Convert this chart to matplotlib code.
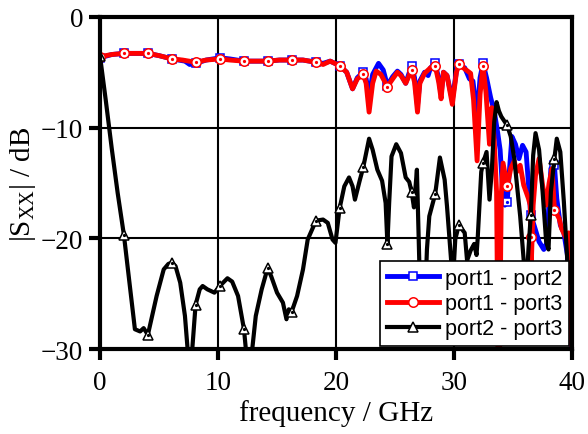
import numpy as np
import matplotlib
matplotlib.use("Agg")
import matplotlib.pyplot as plt
from matplotlib.lines import Line2D

plt.rcParams['font.family'] = ['Liberation Serif', 'DejaVu Serif']
plt.rcParams['mathtext.fontset'] = 'custom'
plt.rcParams['mathtext.rm'] = 'Liberation Serif'
plt.rcParams['mathtext.it'] = 'Liberation Serif:italic'

# marker frequencies (GHz)
marker_freq = [0.0, 2.03, 4.06, 6.1, 8.1, 10.15, 12.2, 14.2, 16.25, 18.3, 20.3,
               22.3, 24.35, 26.4, 28.4, 30.4, 32.45, 34.5, 36.5, 38.5]

# port1 - port2 (blue)
f12 = [0.0, 1.0, 2.03, 3.0, 4.06, 5.0, 6.1, 7.2, 7.6, 8.1, 9.0, 10.15, 11.0, 12.2, 13.0,
       14.2, 15.2, 16.25, 17.2, 18.3, 18.9, 19.5, 20.3, 20.9, 21.4, 21.8, 22.3, 22.55,
       22.8, 23.1, 23.6, 24.0, 24.35, 24.8, 25.2, 25.5, 25.9, 26.4, 26.65, 26.9, 27.1,
       27.5, 27.8, 28.0, 28.4, 28.7, 28.9, 29.1, 29.4, 29.85, 30.2, 30.4, 30.9, 31.3,
       31.6, 31.95, 32.2, 32.45, 32.75, 33.1, 33.4, 33.7, 33.9, 34.1, 34.3, 34.5, 34.7,
       34.9, 35.2, 35.5, 35.8, 36.1, 36.5, 36.8, 37.2, 37.6, 37.9, 38.0, 38.2, 38.5,
       38.7, 39.0, 39.3, 39.6, 39.8, 40.0]
s12 = [-3.7, -3.4, -3.3, -3.3, -3.3, -3.5, -3.8, -4.0, -4.3, -4.2, -3.9, -3.7, -3.8, -4.0, -4.0,
       -4.0, -3.9, -3.9, -3.9, -4.1, -4.2, -4.0, -4.4, -5.0, -6.5, -5.5, -5.0, -5.6,
       -7.2, -5.2, -4.2, -4.8, -6.2, -5.4, -4.9, -5.2, -6.0, -4.4, -5.5, -8.0, -5.8,
       -5.0, -5.3, -4.6, -4.2, -5.6, -7.0, -5.0, -5.3, -7.5, -4.9, -4.3, -4.6, -5.6,
       -5.8, -9.0, -5.5, -4.2, -5.5, -7.3, -8.5, -10.5, -12.0, -15.5, -17.0, -16.7, -13.7,
       -10.8, -11.5, -12.8, -11.6, -12.2, -17.9, -18.9, -20.3, -21.0, -20.3, -17.6, -13.7, -13.4,
       -16.4, -18.8, -19.5, -21.5, -28.0, -31.0]

# port1 - port3 (red)
f13 = [0.0, 1.0, 2.03, 3.0, 4.06, 5.0, 6.1, 7.0, 8.1, 9.0, 10.15, 11.0, 12.2, 13.0, 14.2,
       15.2, 16.25, 17.2, 18.3, 18.9, 19.5, 20.3, 20.9, 21.4, 21.8, 22.3, 22.55, 22.8,
       23.1, 23.4, 23.8, 24.35, 24.8, 25.2, 25.5, 25.9, 26.4, 26.65, 26.9, 27.1, 27.5,
       28.0, 28.4, 28.7, 28.9, 29.1, 29.4, 29.85, 30.2, 30.4, 30.9, 31.4, 31.65, 31.95,
       32.2, 32.45, 32.7, 33.0, 33.2, 33.4, 33.6, 33.72, 33.85, 34.0, 34.15, 34.5, 34.8,
       35.1, 35.3, 35.6, 35.9, 36.3, 36.45, 36.5, 36.55, 36.7, 36.9, 37.2, 37.5, 37.8,
       38.05, 38.3, 38.5, 38.9, 39.1, 39.5, 39.7, 39.85, 40.0]
s13 = [-3.6, -3.4, -3.3, -3.3, -3.3, -3.5, -3.8, -3.9, -4.1, -3.9, -3.8, -3.9, -4.0, -4.0, -4.0,
       -3.9, -3.9, -3.9, -4.1, -4.3, -4.0, -4.4, -5.0, -6.5, -5.6, -5.2, -6.0, -8.6,
       -6.0, -4.9, -5.2, -6.3, -5.6, -5.0, -5.3, -6.0, -4.8, -5.9, -8.6, -6.0, -5.1,
       -4.6, -4.4, -5.9, -7.4, -5.0, -5.3, -7.9, -5.0, -4.3, -4.7, -5.1, -7.5, -13.0,
       -7.0, -4.4, -6.8, -11.5, -8.2, -11.2, -15.8, -31.0, -31.0, -16.0, -13.2, -15.3, -13.7,
       -13.0, -14.0, -13.4, -15.2, -16.4, -17.0, -19.9, -22.0, -17.0, -14.3, -12.8, -15.2, -17.0,
       -15.0, -13.7, -17.4, -18.2, -19.1, -20.0, -19.5, -25.0, -31.0]

# port2 - port3 (black)
f23 = [0.0, 0.5, 1.0, 1.5, 2.03, 2.5, 2.96, 3.4, 3.7, 4.06, 4.8, 5.4, 5.8, 6.1, 6.4, 6.8,
       7.2, 7.5, 7.75, 8.1, 8.45, 8.7, 9.1, 9.7, 10.15, 10.8, 11.2, 11.7, 12.2, 12.45,
       12.8, 13.2, 13.7, 14.2, 14.5, 15.0, 15.5, 15.8, 16.0, 16.25, 16.7, 17.2, 17.6,
       18.3, 18.9, 19.3, 19.7, 19.95, 20.3, 20.7, 21.1, 21.4, 21.6, 22.0, 22.3, 22.8,
       23.1, 23.5, 23.9, 24.2, 24.35, 24.5, 24.7, 25.1, 25.5, 25.9, 26.2, 26.4, 26.6,
       26.85, 27.05, 27.3, 27.5, 27.7, 27.9, 28.4, 28.8, 29.2, 29.4, 29.75, 29.9, 30.1,
       30.4, 30.9, 31.1, 31.4, 31.7, 31.9, 32.0, 32.3, 32.45, 32.75, 33.0, 33.2, 33.4,
       33.6, 33.8, 34.0, 34.5, 34.8, 35.1, 35.3, 35.6, 35.9, 36.1, 36.3, 36.5, 36.7,
       36.9, 37.2, 37.5, 37.8, 38.0, 38.2, 38.5, 38.7, 39.0, 39.3, 39.5, 39.7, 40.0]
s23 = [-3.5, -7.6, -11.9, -15.9, -19.7, -24.0, -28.2, -28.4, -28.1, -28.7, -25.2, -22.8, -22.3, -22.2, -22.5, -24.0,
       -27.0, -31.0, -31.0, -26.0, -24.6, -24.3, -24.6, -24.9, -24.3, -23.6, -23.9, -25.2, -28.2, -31.0,
       -31.0, -27.0, -24.6, -22.7, -23.4, -24.9, -25.8, -27.3, -26.4, -26.6, -25.2, -22.8, -20.1,
       -18.4, -18.3, -18.6, -20.1, -20.4, -17.3, -15.3, -14.5, -15.3, -16.5, -14.8, -13.6, -11.0,
       -12.0, -13.8, -14.8, -16.8, -20.5, -16.8, -12.6, -11.5, -12.3, -14.5, -14.9, -15.8, -17.2,
       -13.8, -22.0, -27.0, -27.0, -21.0, -18.0, -16.0, -12.7, -14.7, -17.1, -22.0, -24.0, -20.1,
       -18.8, -19.5, -22.0, -21.1, -20.5, -21.5, -20.0, -14.0, -13.2, -12.2, -16.5, -13.8, -9.5,
       -7.7, -8.5, -9.0, -9.8, -10.8, -12.8, -14.9, -18.0, -22.0, -25.0, -21.0, -17.9, -12.5,
       -10.5, -12.0, -15.8, -20.3, -21.0, -15.8, -12.8, -11.0, -12.2, -16.7, -20.3, -24.0, -24.0]

labels = ['port1 - port2', 'port1 - port3', 'port2 - port3']
x_ticks = [0, 10, 20, 30, 40]
y_ticks = [0, -10, -20, -30]


def mark_idx(freqs):
    fa = np.asarray(freqs)
    return [int(np.argmin(np.abs(fa - m))) for m in marker_freq]


fig = plt.figure(figsize=(5.88, 4.35), dpi=100)
ax = fig.add_axes([0.170, 0.195, 0.803, 0.764])

series = [
    (f12, s12, 'blue', 's', 3.5, 6.0),
    (f13, s13, 'red', 'o', 3.5, 6.8),
    (f23, s23, 'black', '^', 3.0, 7.0),
]
handles = []
for (f, s, c, m, lw, ms), lab in zip(series, labels):
    idx = mark_idx(f)
    ax.plot(f, s, color=c, lw=lw, marker=m, markevery=idx, ms=ms,
            mfc='white', mec=c, mew=1.1, solid_joinstyle='round')
    ax.plot(f, s, ls='none', marker='o', markevery=idx, ms=1.3, color=c)
    handles.append(Line2D([], [], color=c, lw=lw, marker=m, ms=ms, mfc='white',
                          mec=c, mew=1.1))

ax.set_xlim(0, 40)
ax.set_ylim(-30, 0)
ax.set_xticks(x_ticks)
ax.set_yticks(y_ticks)
ax.grid(True, color='black', lw=1.5)
for sp in ax.spines.values():
    sp.set_linewidth(3)
ax.tick_params(direction='out', length=8, width=3, labelsize=19.5)
ax.tick_params(axis='x', pad=7)
ax.tick_params(axis='y', pad=4)

ax.set_xlabel('frequency / GHz', fontsize=21, labelpad=3)
ax.set_ylabel(r'|S$_{\mathrm{XX}}$| / dB', fontsize=21, labelpad=2)

leg = ax.legend(handles, labels, loc='lower right', bbox_to_anchor=(1.0, 0.0),
                borderaxespad=0.15, prop={'family': 'Liberation Sans', 'size': 15.5},
                frameon=True, fancybox=False, framealpha=1, edgecolor='black',
                handlelength=2.4, handletextpad=0.3, labelspacing=0.2,
                borderpad=0.3)
leg.get_frame().set_linewidth(1.2)

fig.savefig('out.png', dpi=100)
